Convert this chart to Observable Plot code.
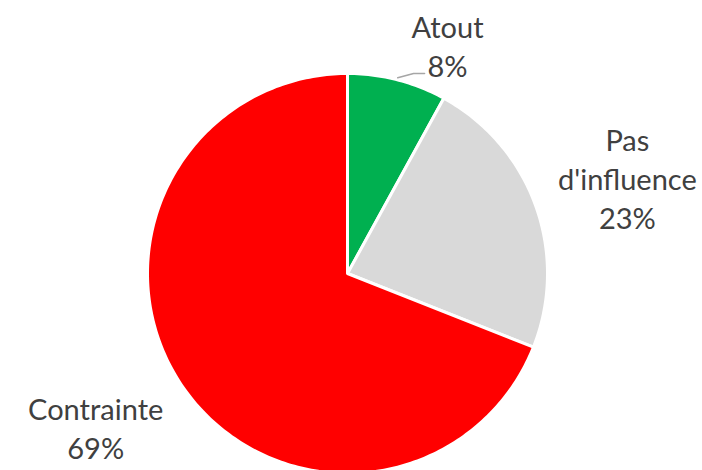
<!DOCTYPE html>
<html>
<head>
<meta charset="utf-8">
<script src="https://cdn.jsdelivr.net/npm/d3@7"></script>
<script src="https://cdn.jsdelivr.net/npm/@observablehq/plot@0.6"></script>
<style>
  html, body { margin: 0; padding: 0; background: #fff; }
  #chart { width: 702px; height: 470px; }
</style>
</head>
<body>
<div id="chart"></div>
<script>
// Data
const categories = ["Atout", "Pas d'influence", "Contrainte"];
const values = [8, 23, 69];
const labelTexts = ["Atout\n8%", "Pas\nd'influence\n23%", "Contrainte\n69%"];
const colors = ["#00B050", "#D9D9D9", "#FF0000"];

// Layout (label placement relative to slice mid-angle, in radius units / degrees)
const labelLayout = {
  "Atout": {radius: 1.245, shift: 9.3},
  "Pas d'influence": {radius: 1.48, shift: 0.8},
  "Contrainte": {radius: 1.475, shift: 2.8}
};

const W = 702, H = 470, R = 200, CX = 347, CY = 273;

const pie = d3.pie().sort(null).value(d => d.value)(
  categories.map((c, i) => ({category: c, value: values[i], label: labelTexts[i]}))
);

const polar = (a, r) => [Math.sin(a) * r, Math.cos(a) * r];

// slice polygons
const slicePoints = [];
for (const s of pie) {
  const n = Math.max(8, Math.ceil((s.endAngle - s.startAngle) / (Math.PI / 180)));
  slicePoints.push({category: s.data.category, x: 0, y: 0});
  for (let k = 0; k <= n; k++) {
    const a = s.startAngle + (s.endAngle - s.startAngle) * k / n;
    const [x, y] = polar(a, 1);
    slicePoints.push({category: s.data.category, x, y});
  }
  slicePoints.push({category: s.data.category, x: 0, y: 0});
}

// labels
const labels = pie.map(s => {
  const mid = (s.startAngle + s.endAngle) / 2;
  const L = labelLayout[s.data.category];
  const [x, y] = polar(mid + L.shift * Math.PI / 180, L.radius);
  return {category: s.data.category, label: s.data.label, x, y, mid};
});

// leader line for Atout
const atout = labels.find(d => d.category === "Atout");
const [lx0, ly0] = polar(atout.mid, 1.01);
const leader = [
  {x: lx0, y: ly0},
  {x: atout.x - 0.17, y: atout.y - 0.14},
  {x: atout.x - 0.115, y: atout.y - 0.14}
];

const chart = Plot.plot({
  width: W,
  height: H,
  margin: 0,
  x: {domain: [-CX / R, (W - CX) / R], axis: null},
  y: {domain: [-(H - CY) / R, CY / R], axis: null},
  color: {domain: categories, range: colors},
  marks: [
    Plot.line(slicePoints, {
      x: "x", y: "y", z: "category", fill: "category",
      stroke: "#ffffff", strokeWidth: 3, strokeLinejoin: "round", curve: "linear-closed"
    }),
    Plot.line(leader, {x: "x", y: "y", stroke: "#A6A6A6", strokeWidth: 1.5}),
    Plot.text(labels, {
      x: "x", y: "y", text: "label",
      fill: "#404040", fontSize: 29, lineHeight: 1.345,
      fontFamily: "Lato, 'Open Sans', sans-serif",
      textAnchor: "middle", lineAnchor: "middle"
    })
  ]
});
document.getElementById("chart").appendChild(chart);
</script>
</body>
</html>
